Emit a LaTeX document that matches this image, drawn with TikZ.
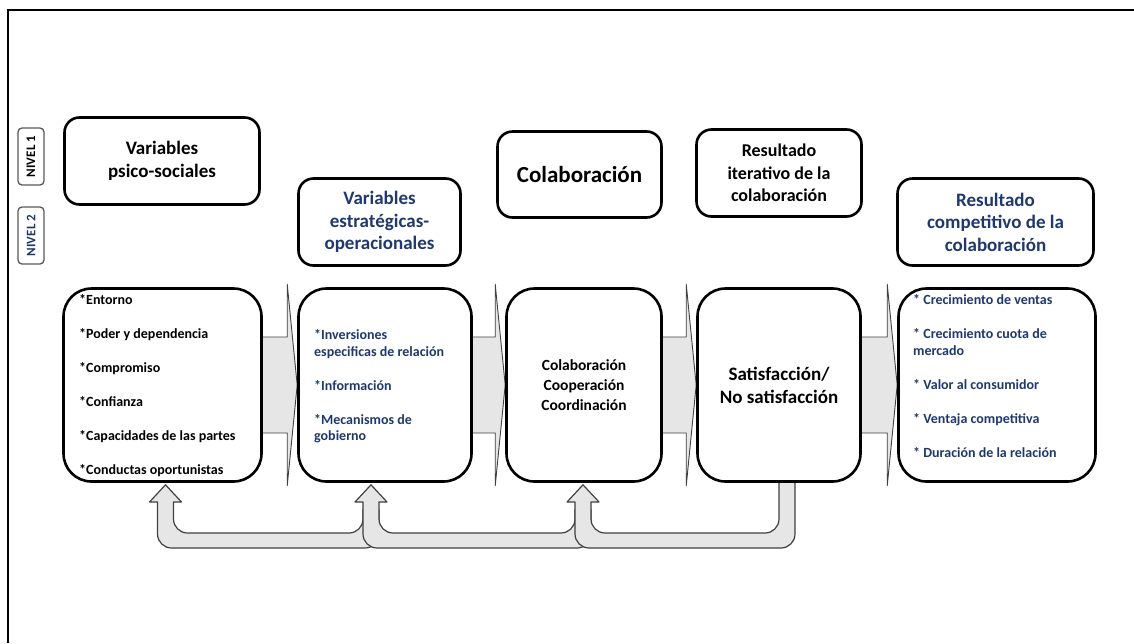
\documentclass[tikz,border=0pt]{standalone}
\usepackage{fontspec}
\setmainfont{Carlito}
\usetikzlibrary{positioning, calc, backgrounds}

\definecolor{navy}{RGB}{31,56,110}
\definecolor{arrowfill}{RGB}{230,230,230}

\tikzset{
  titlebox/.style={draw, line width=2.6pt, rounded corners=15pt, fill=white, align=center, inner sep=2pt, font=\bfseries\fontsize{19}{22.5}\selectfont},
  stagebox/.style={draw, line width=2.6pt, rounded corners=28pt, fill=white, minimum height=193, align=center, font=\bfseries},
  levelbox/.style={draw=black!65, line width=1.3pt, rounded corners=4pt, fill=white, rotate=90, minimum width=57, minimum height=26, inner sep=1pt, font=\bfseries\fontsize{13}{15}\selectfont},
  itemlist/.style={anchor=west, align=left, inner sep=0pt, font=\bfseries\fontsize{14}{16.5}\selectfont},
  blockarrow/.style={draw=black!75, line width=0.9pt, fill=arrowfill},
  looparrow/.style={draw=black!75, line width=1.2pt, fill=arrowfill, line join=round},
}

% block arrow from one stage box into the next one
\newcommand{\stagearrow}[2]{%
  \draw[blockarrow] ($(#1.east)+(-20,-48)$) -- ($(#2.west)+(-10,-48)$)
    -- ($(#2.west)+(-10,-101)$) -- (#2.west) -- ($(#2.west)+(-10,101)$)
    -- ($(#2.west)+(-10,48)$) -- ($(#1.east)+(-20,48)$) -- cycle;}

% U-turn arrow: stem at #2 (top shifted by #3), back along the band, up to tip #1
\newcommand{\feedback}[3]{%
  \draw[looparrow] ($(#2)+(8,#3)$) [rounded corners=14pt] -- ($(#2 |- bandlow)+(8,0)$)
    -- ($(#1 |- bandlow)+(-8,0)$) [sharp corners] -- ($(#1 |- headbase)+(-8,0)$)
    -- ($(#1 |- headbase)+(-16,0)$) -- (#1) -- ($(#1 |- headbase)+(16,0)$)
    -- ($(#1 |- headbase)+(8,0)$) [rounded corners=14pt] -- ($(#1 |- bandtop)+(8,0)$)
    -- ($(#2 |- bandtop)+(-8,0)$) [sharp corners] -- ($(#2)+(-8,#3)$) -- cycle;}

\begin{document}
\begin{tikzpicture}[x=1pt, y=-1pt]
    \useasboundingbox (0,0) rectangle (1134,643);

    % Frame
    \draw[line width=2pt] (8,643) -- (8,10) -- (1134,10);

    % Level tags
    \node[levelbox] (lvl1) at (31,156.5) {NIVEL 1};
    \node[levelbox, text=navy] (lvl2) at (31,235.5) {NIVEL 2};

    % Title boxes
    \node[titlebox, minimum width=195, minimum height=87] (head1) at (162,161) {Variables\\psico-sociales};
    \node[titlebox, text=navy, minimum width=162, minimum height=87] (head2) at (379.5,222) {Variables\\estratégicas-\\operacionales};
    \node[titlebox, minimum width=164, minimum height=86, font=\bfseries\fontsize{23}{27}\selectfont] (head3) at (579.5,174.5) {Colaboración};
    \node[titlebox, minimum width=165, minimum height=87, font=\bfseries\fontsize{18}{22.5}\selectfont] (head4) at (779,173) {Resultado\\iterativo de la\\colaboración};
    \node[titlebox, text=navy, minimum width=196, minimum height=87] (head5) at (995.5,222) {Resultado\\competitivo de la\\colaboración};

    % Stage boxes
    \node[stagebox, minimum width=198] (low1) at (162.5,385) {};
    \node[stagebox, minimum width=173] (low2) at (385,385) {};
    \node[stagebox, minimum width=155, font=\bfseries\fontsize{15.5}{20}\selectfont] (low3) at (584,385) {Colaboración\\Cooperación\\Coordinación};
    \node[stagebox, minimum width=163, font=\bfseries\fontsize{19}{23}\selectfont] (low4) at (779,385) {Satisfacción/\\No satisfacción};
    \node[stagebox, minimum width=197] (low5) at (997,385) {};

    % Item lists
    \node[itemlist] (items1) at (79,385.5) {*Entorno\\[17.5pt]*Poder y dependencia\\[17.5pt]*Compromiso\\[17.5pt]*Confianza\\[17.5pt]*Capacidades de las partes\\[17.5pt]*Conductas oportunistas};
    \node[itemlist, text=navy] (items2) at (314,386.5) {*Inversiones\\especificas de relación\\[17.5pt]*Información\\[17.5pt]*Mecanismos de\\gobierno};
    \node[itemlist, text=navy] (items5) at (913,376) {* Crecimiento de ventas\\[17.5pt]* Crecimiento cuota de\\mercado\\[17.5pt]* Valor al consumidor\\[17.5pt]* Ventaja competitiva\\[17.5pt]* Duración de la relación};

    % Feedback tips and band levels
    \coordinate (tip1) at ($(low1.south)+(3,2)$);
    \coordinate (tip2) at ($(low2.south)+(-14,2)$);
    \coordinate (tip3) at ($(low3.south)+(-1,2)$);
    \coordinate (ret) at ($(low4.south)+(8,2)$);
    \coordinate (headbase) at (0,502);
    \coordinate (bandtop) at (0,533);
    \coordinate (bandlow) at (0,548);

    \begin{scope}[on background layer]
        % Arrows between stages
        \stagearrow{low1}{low2}
        \stagearrow{low2}{low3}
        \stagearrow{low3}{low4}
        \stagearrow{low4}{low5}

        % Feedback arrows
        \feedback{tip1}{tip2}{25}
        \feedback{tip2}{tip3}{25}
        \feedback{tip3}{ret}{-20}
    \end{scope}
\end{tikzpicture}
\end{document}
